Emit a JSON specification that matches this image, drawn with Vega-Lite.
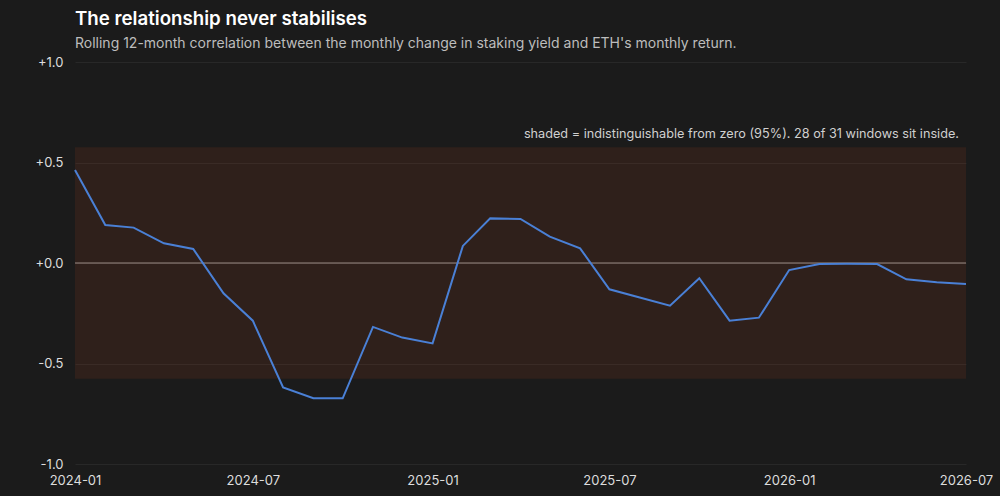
{
  "$schema": "https://vega.github.io/schema/vega-lite/v6.json",
  "width": 891,
  "height": 402,
  "autosize": "none",
  "padding": {"left": 75, "top": 62, "right": 34, "bottom": 32},
  "background": "#1b1b1b",
  "title": {
    "text": "The relationship never stabilises",
    "subtitle": "Rolling 12-month correlation between the monthly change in staking yield and ETH's monthly return.",
    "anchor": "start",
    "frame": "group",
    "font": "Inter",
    "fontSize": 18.7,
    "fontWeight": 600,
    "color": "#ffffff",
    "subtitleFont": "Inter",
    "subtitleFontSize": 14,
    "subtitleColor": "#bdbdbd",
    "subtitlePadding": 8,
    "offset": 5
  },
  "config": {
    "view": {"stroke": null},
    "font": "Inter",
    "axis": {
      "labelFont": "Inter",
      "labelFontSize": 13,
      "labelColor": "#dddddd",
      "domain": false,
      "ticks": false,
      "title": null
    }
  },
  "datasets": {
    "corr": [
      {"month": "2024-01-01", "r": 0.463},
      {"month": "2024-02-01", "r": 0.189},
      {"month": "2024-03-01", "r": 0.176},
      {"month": "2024-04-01", "r": 0.098},
      {"month": "2024-05-01", "r": 0.070},
      {"month": "2024-06-01", "r": -0.151},
      {"month": "2024-07-01", "r": -0.287},
      {"month": "2024-08-01", "r": -0.619},
      {"month": "2024-09-01", "r": -0.673},
      {"month": "2024-10-01", "r": -0.673},
      {"month": "2024-11-01", "r": -0.318},
      {"month": "2024-12-01", "r": -0.371},
      {"month": "2025-01-01", "r": -0.400},
      {"month": "2025-02-01", "r": 0.085},
      {"month": "2025-03-01", "r": 0.222},
      {"month": "2025-04-01", "r": 0.219},
      {"month": "2025-05-01", "r": 0.131},
      {"month": "2025-06-01", "r": 0.073},
      {"month": "2025-07-01", "r": -0.131},
      {"month": "2025-08-01", "r": -0.172},
      {"month": "2025-09-01", "r": -0.212},
      {"month": "2025-10-01", "r": -0.076},
      {"month": "2025-11-01", "r": -0.287},
      {"month": "2025-12-01", "r": -0.272},
      {"month": "2026-01-01", "r": -0.035},
      {"month": "2026-02-01", "r": -0.005},
      {"month": "2026-03-01", "r": -0.004},
      {"month": "2026-04-01", "r": -0.005},
      {"month": "2026-05-01", "r": -0.081},
      {"month": "2026-06-01", "r": -0.096},
      {"month": "2026-07-01", "r": -0.104}
    ],
    "band": [
      {"start": "2024-01-01", "end": "2026-07-01", "lo": -0.576, "hi": 0.576}
    ],
    "note": [
      {"month": "2026-07-01", "r": 0.64, "label": "shaded = indistinguishable from zero (95%). 28 of 31 windows sit inside."}
    ]
  },
  "layer": [
    {
      "data": {"name": "band"},
      "mark": {"type": "rect", "fill": "#e0501b", "fillOpacity": 0.1},
      "encoding": {
        "x": {
          "field": "start",
          "type": "temporal",
          "scale": {"domain": ["2024-01-01", "2026-07-01"]},
          "axis": {
            "values": ["2024-01-01", "2024-07-01", "2025-01-01", "2025-07-01", "2026-01-01", "2026-07-01"],
            "format": "%Y-%m",
            "grid": false,
            "labelPadding": 10,
            "labelFlush": false
          }
        },
        "x2": {"field": "end"},
        "y": {
          "field": "lo",
          "type": "quantitative",
          "scale": {"domain": [-1, 1]},
          "axis": {
            "values": [-1, -0.5, 0, 0.5, 1],
            "format": "+.1f",
            "labelExpr": "replace(datum.label, '\u2212', '-')",
            "grid": true,
            "gridColor": "#282828",
            "gridWidth": 1,
            "labelPadding": 12
          }
        },
        "y2": {"field": "hi"}
      }
    },
    {
      "data": {"values": [{"zero": 0}]},
      "mark": {"type": "rule", "color": "#978a84", "strokeWidth": 1.2},
      "encoding": {
        "y": {"field": "zero", "type": "quantitative"}
      }
    },
    {
      "data": {"name": "corr"},
      "mark": {"type": "line", "color": "#4a80d6", "strokeWidth": 2},
      "encoding": {
        "x": {"field": "month", "type": "temporal"},
        "y": {"field": "r", "type": "quantitative"}
      }
    },
    {
      "data": {"name": "note"},
      "mark": {"type": "text", "align": "right", "baseline": "middle", "dx": -7, "font": "Inter", "fontSize": 12.7, "color": "#d0d0d0"},
      "encoding": {
        "x": {"field": "month", "type": "temporal"},
        "y": {"field": "r", "type": "quantitative"},
        "text": {"field": "label"}
      }
    }
  ]
}
